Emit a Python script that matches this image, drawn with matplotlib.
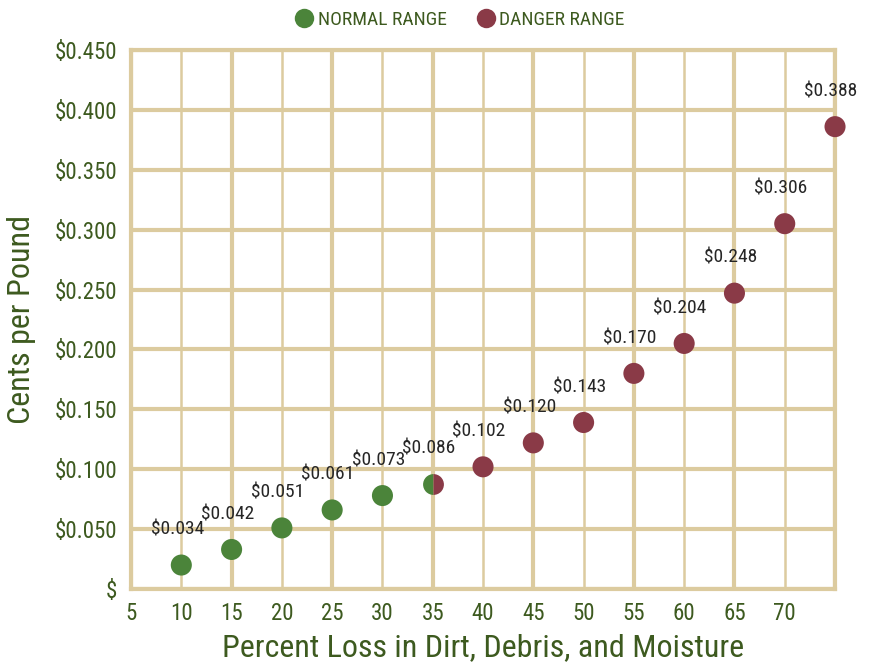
import matplotlib.pyplot as plt
from matplotlib.lines import Line2D

FONT = ["Roboto Condensed", "DejaVu Sans"]
plt.rcParams["font.family"] = FONT

# data
normal_x = [10, 15, 20, 25, 30, 35]
normal_y = [0.020, 0.033, 0.051, 0.066, 0.078, 0.088]
danger_x = [35, 40, 45, 50, 55, 60, 65, 70, 75]
danger_y = [0.088, 0.102, 0.122, 0.139, 0.180, 0.205, 0.247, 0.305, 0.386]
label_x = [10, 15, 20, 25, 30, 35, 40, 45, 50, 55, 60, 65, 70, 75]
label_y = normal_y[:-1] + danger_y
label_txt = ["$0.034", "$0.042", "$0.051", "$0.061", "$0.073", "$0.086", "$0.102",
             "$0.120", "$0.143", "$0.170", "$0.204", "$0.248", "$0.306", "$0.388"]
xticks = [5, 10, 15, 20, 25, 30, 35, 40, 45, 50, 55, 60, 65, 70]
yticks = [0, 0.05, 0.10, 0.15, 0.20, 0.25, 0.30, 0.35, 0.40, 0.45]
ytick_labels = ["$", "$0.050", "$0.100", "$0.150", "$0.200", "$0.250", "$0.300",
                "$0.350", "$0.400", "$0.450"]

GREEN = "#4b843a"
RED = "#8a3a47"
TEXT = "#3d5a1f"
GRID = "#dccb9f"

fig = plt.figure(figsize=(8.7, 6.71), dpi=100)
ax = fig.add_axes([0.1506, 0.1222, 0.8092, 0.8033])
ax.set_xlim(5, 75)
ax.set_ylim(0, 0.45)

# grid: thick every 10 starting at 5, thin in between
for x in range(5, 76, 5):
    lw = 3 if (x - 5) % 10 == 0 else 1.8
    ax.axvline(x, color=GRID, lw=lw, zorder=0)
for y in yticks:
    ax.axhline(y, color=GRID, lw=3, zorder=0)
for s in ax.spines.values():
    s.set_color(GRID)
    s.set_linewidth(3)

ax.scatter(normal_x[:-1], normal_y[:-1], s=230, color=GREEN, edgecolor="none", zorder=3)
ax.scatter(danger_x[1:], danger_y[1:], s=230, color=RED, edgecolor="none", zorder=3, clip_on=False)
# point at 35 is shared by both ranges: half green, half red
ax.plot(normal_x[-1:], normal_y[-1:], marker="o", ms=15, fillstyle="left", color=GREEN,
        markerfacecoloralt=RED, mec="none", ls="", zorder=3)

for x, y, t in zip(label_x, label_y, label_txt):
    ax.annotate(t, (x, y), xytext=(-3, 19), textcoords="offset points",
                ha="center", va="bottom", fontsize=14, color="#262626")

ax.set_xticks(xticks)
ax.set_yticks(yticks)
ax.set_yticklabels(ytick_labels)
ax.tick_params(length=0, labelsize=16.5, labelcolor=TEXT)
ax.tick_params(axis="y", pad=10)
ax.tick_params(axis="x", pad=9)
ax.set_xlabel("Percent Loss in Dirt, Debris, and Moisture", fontsize=23, color=TEXT, labelpad=6)
ax.set_ylabel("Cents per Pound", fontsize=23, color=TEXT, labelpad=13)

handles = [Line2D([], [], marker="o", ls="", ms=14, color=GREEN, mec="none"),
           Line2D([], [], marker="o", ls="", ms=14, color=RED, mec="none")]
fig.legend(handles, ["NORMAL RANGE", "DANGER RANGE"], loc="center", bbox_to_anchor=(0.527, 0.97),
           ncol=2, frameon=False, fontsize=14, labelcolor=TEXT, handletextpad=0.1,
           columnspacing=1.4, handlelength=1.2)

fig.savefig("out.png", dpi=100)
